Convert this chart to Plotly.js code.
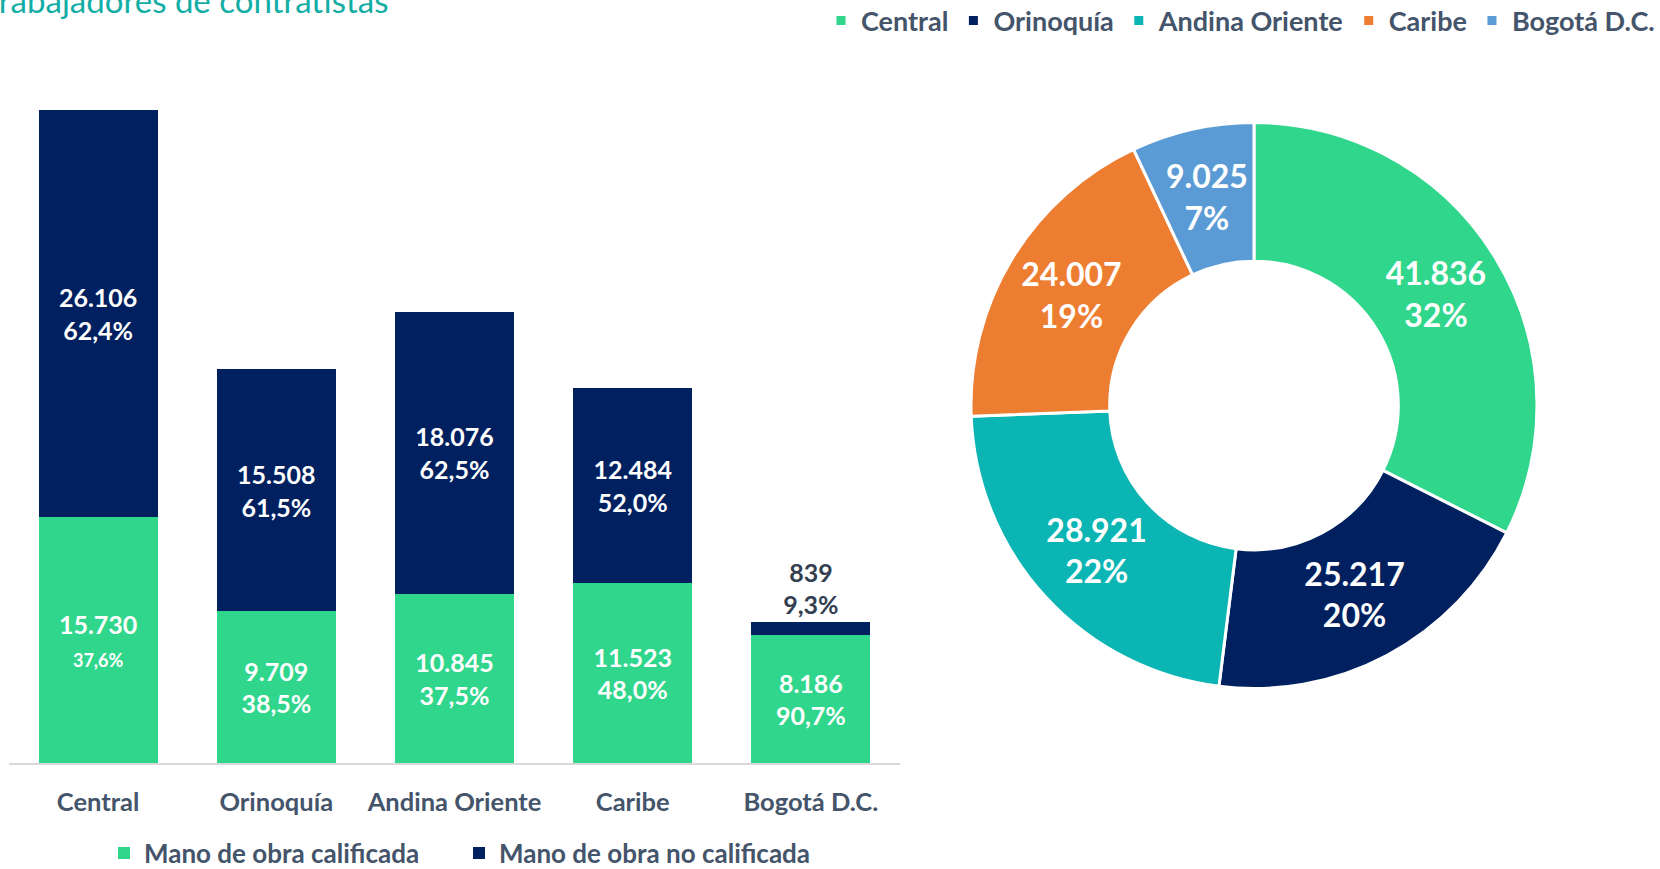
<!DOCTYPE html>
<html>
<head>
<meta charset="utf-8">
<script src="https://cdn.plot.ly/plotly-3.0.1.min.js"></script>
<style>
  html, body { margin: 0; padding: 0; background: #ffffff; }
  #chart { width: 1660px; height: 869px; }
</style>
</head>
<body>
<div id="chart"></div>
<script>
// ---- Data ----
const categories = ['Central', 'Orinoquía', 'Andina Oriente', 'Caribe', 'Bogotá D.C.'];
const calificada = [15730, 9709, 10845, 11523, 8186];
const noCalificada = [26106, 15508, 18076, 12484, 839];
const pctCalificada = [37.6, 38.5, 37.5, 48.0, 90.7];
const pctNoCalificada = [62.4, 61.5, 62.5, 52.0, 9.3];
const totals = [41836, 25217, 28921, 24007, 9025];
const seriesNames = ['Mano de obra calificada', 'Mano de obra no calificada'];
const titleText = 'Trabajadores de contratistas';

// ---- Styles ----
const GREEN = '#31D68D';
const NAVY = '#002060';
const TEAL = '#0BB5B3';
const ORANGE = '#ED7D31';
const BLUE = '#5B9BD5';
const GRAY = '#44546A';
const FONT = 'Lato, "Open Sans", sans-serif';

const W = 1660, H = 869;
const px = v => v / W;
const py = v => (H - v) / H;

// pie geometry (pixels)
const PIE_CX = 1254, PIE_CY = 405.5, PIE_R = 283, HOLE = 0.51;
const pieDomain = { x: [px(PIE_CX - PIE_R), px(PIE_CX + PIE_R)], y: [py(PIE_CY + PIE_R), py(PIE_CY - PIE_R)] };

const greenTemplates = categories.map((c, i) => i === 0
  ? '%{y:,.0f}<br><span style="font-size:18px">%{customdata:.1f}%</span>'
  : '%{y:,.0f}<br>%{customdata:.1f}%');

// The smallest slice's label is drawn at full size at the slice's mid-angle (as in the reference)
const smallIdx = totals.length - 1;
const pieTemplates = totals.map((v, i) => i === smallIdx ? '' : '%{value:,.0f}<br>%{percent:.0%}');
const sumT = totals.reduce((a, b) => a + b, 0);
const cumBefore = totals.slice(0, smallIdx).reduce((a, b) => a + b, 0);
const midFrac = (cumBefore + totals[smallIdx] / 2) / sumT;
const midAng = midFrac * 2 * Math.PI;
const midR = PIE_R * (1 + HOLE) / 2;
const fmtInt = n => n.toString().replace(/\B(?=(\d{3})+(?!\d))/g, '.');
const smallLabel = fmtInt(totals[smallIdx]) + '<br>' + Math.round(totals[smallIdx] / sumT * 100) + '%';

const PIEFONT = { family: FONT, size: 32, color: '#ffffff', weight: 700 };
const LEGFONT = { family: FONT, size: 26, color: GRAY, weight: 700 };

const traces = [
  {
    type: 'bar', name: seriesNames[0], x: categories, y: calificada,
    customdata: pctCalificada,
    marker: { color: GREEN },
    texttemplate: greenTemplates,
    textposition: 'inside', insidetextanchor: 'middle', textangle: 0,
    constraintext: 'none',
    insidetextfont: { family: FONT, size: 25, color: '#ffffff', weight: 700 },
    hoverinfo: 'skip', cliponaxis: false, legend: 'legend'
  },
  {
    type: 'bar', name: seriesNames[1], x: categories, y: noCalificada,
    customdata: pctNoCalificada,
    marker: { color: NAVY },
    texttemplate: '%{y:,.0f}<br>%{customdata:.1f}%',
    textposition: categories.map((c, i) => i === categories.length - 1 ? 'outside' : 'inside'),
    insidetextanchor: 'middle', textangle: 0, constraintext: 'none',
    insidetextfont: { family: FONT, size: 25, color: '#ffffff', weight: 700 },
    outsidetextfont: { family: FONT, size: 25, color: '#333F50', weight: 700 },
    hoverinfo: 'skip', cliponaxis: false, legend: 'legend3'
  },
  {
    type: 'pie', labels: categories, values: totals,
    sort: false, direction: 'clockwise', rotation: 0,
    hole: HOLE,
    marker: { colors: [GREEN, NAVY, TEAL, ORANGE, BLUE], line: { color: '#ffffff', width: 3 } },
    texttemplate: pieTemplates,
    textposition: 'inside', insidetextorientation: 'horizontal',
    insidetextfont: PIEFONT,
    domain: pieDomain,
    hoverinfo: 'skip', legend: 'legend2', showlegend: true
  }
];

const layout = {
  width: W, height: H,
  margin: { l: 0, r: 0, t: 0, b: 0, autoexpand: false },
  paper_bgcolor: '#ffffff', plot_bgcolor: '#ffffff',
  separators: ',.',
  barmode: 'stack', bargap: 0.333,
  font: { family: FONT, color: GRAY },
  showlegend: true,
  xaxis: {
    domain: [px(9), px(900)],
    showline: true, linecolor: '#D9D9D9', linewidth: 2,
    showgrid: false, zeroline: false, ticks: '',
    ticklabelstandoff: 15,
    tickfont: { family: FONT, size: 25.5, color: GRAY, weight: 700 },
    fixedrange: true
  },
  yaxis: {
    domain: [py(763), py(110)],
    range: [0, Math.max(...totals)],
    visible: false, showgrid: false, zeroline: false, fixedrange: true
  },
  legend: {
    orientation: 'h', x: px(104), xanchor: 'left', y: py(853), yanchor: 'middle',
    font: LEGFONT, itemclick: false, itemdoubleclick: false
  },
  legend3: {
    orientation: 'h', x: px(459), xanchor: 'left', y: py(853), yanchor: 'middle',
    font: LEGFONT, itemclick: false, itemdoubleclick: false
  },
  legend2: {
    orientation: 'h', x: 1, xanchor: 'right', y: py(21), yanchor: 'middle',
    font: { family: FONT, size: 27, color: GRAY, weight: 700 },
    itemclick: false, itemdoubleclick: false
  },
  annotations: [
    {
      text: titleText, xref: 'paper', yref: 'paper',
      x: px(-19), xanchor: 'left', y: py(0), yanchor: 'middle',
      showarrow: false,
      font: { family: FONT, size: 33, color: '#12ADA5' }
    },
    {
      text: smallLabel, xref: 'paper', yref: 'paper',
      x: px(PIE_CX + midR * Math.sin(midAng)), xanchor: 'center',
      y: py(PIE_CY - midR * Math.cos(midAng)), yanchor: 'middle',
      showarrow: false, font: PIEFONT
    }
  ]
};

Plotly.newPlot('chart', traces, layout, { staticPlot: true, displayModeBar: false });
</script>
</body>
</html>
